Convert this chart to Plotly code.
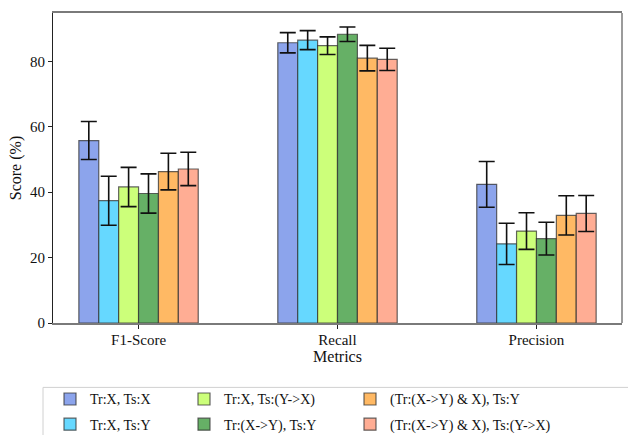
import plotly.graph_objects as go

metrics = ["F1-Score", "Recall", "Precision"]
series_names = [
    "Tr:X, Ts:X",
    "Tr:X, Ts:Y",
    "Tr:X, Ts:(Y->X)",
    "Tr:(X->Y), Ts:Y",
    "(Tr:(X->Y) & X), Ts:Y",
    "(Tr:(X->Y) & X), Ts:(Y->X)",
]
colors = ["#8CA4EC", "#66D8FF", "#CCFF7A", "#66B066", "#FFB964", "#FFAD94"]

s1 = [55.8, 85.7, 42.4]
s2 = [37.4, 86.5, 24.2]
s3 = [41.6, 84.8, 28.1]
s4 = [39.6, 88.3, 25.8]
s5 = [46.3, 81.0, 32.9]
s6 = [47.1, 80.6, 33.5]
values = [s1, s2, s3, s4, s5, s6]

e1 = [5.8, 3.1, 7.0]
e2 = [7.5, 2.9, 6.3]
e3 = [6.0, 2.7, 5.6]
e4 = [6.0, 2.2, 5.0]
e5 = [5.6, 3.9, 6.0]
e6 = [5.1, 3.4, 5.5]
errors = [e1, e2, e3, e4, e5, e6]

y_ticks = [0, 20, 40, 60, 80]

FONT = "Liberation Serif"

# legend column assignment (matplotlib ncol=3 fills column-wise)
legend_ids = ["legend", "legend", "legend2", "legend2", "legend3", "legend3"]

fig = go.Figure()
for i, (name, vals, errs, col) in enumerate(zip(series_names, values, errors, colors)):
    fig.add_trace(go.Bar(
        x=metrics, y=vals, name=name,
        marker=dict(color=col, line=dict(color="rgba(50,50,50,0.75)", width=1.2)),
        error_y=dict(type="data", array=errs, visible=True, color="#111111",
                     thickness=1.6, width=8),
        legend=legend_ids[i], legendgroup=f"g{i}",
    ))

W, H = 628, 435
L, R, T, B = 53, 6, 13, 111.5
pw = W - L - R
ph = H - T - B

def px2x(px):
    return (px - L) / pw

def py2y(py):
    return (H - B - py) / ph

legend_common = dict(
    orientation="v", xanchor="left", yanchor="top",
    font=dict(family=FONT, size=14, color="#111111"),
    bgcolor="rgba(0,0,0,0)", borderwidth=0, tracegroupgap=4,
    itemwidth=30,
)

fig.update_layout(
    width=W, height=H,
    margin=dict(l=L, r=R, t=T, b=B, autoexpand=False),
    plot_bgcolor="white", paper_bgcolor="white",
    font=dict(family=FONT, size=15, color="#111111"),
    barmode="group", bargap=0.4, bargroupgap=0,
    legend=dict(x=px2x(50), y=py2y(384), **legend_common),
    legend2=dict(x=px2x(184), y=py2y(384), **legend_common),
    legend3=dict(x=px2x(350), y=py2y(384), **legend_common),
    xaxis=dict(
        range=[-0.43, 2.43], showgrid=False, automargin=False,
        showline=True, linecolor="#7a7a7a", linewidth=1.5, mirror=True,
        ticks="outside", ticklen=4, tickcolor="#222222", ticklabelstandoff=-2,
        tickfont=dict(family=FONT, size=15, color="#111111"),
        title=dict(text="Metrics", font=dict(family=FONT, size=16, color="#111111"), standoff=1),
    ),
    yaxis=dict(
        range=[0, 94.8], tickvals=y_ticks, showgrid=False, zeroline=False, automargin=False,
        showline=True, linecolor="#222222", linewidth=1.2,
        ticks="outside", ticklen=4, tickcolor="#222222",
        tickfont=dict(family=FONT, size=15, color="#111111"),
        title=dict(text="Score (%)", font=dict(family=FONT, size=16, color="#111111"), standoff=4),
    ),
    shapes=[
        dict(type="line", xref="paper", yref="paper", x0=1, x1=1, y0=0, y1=1,
             line=dict(color="#7a7a7a", width=1.5)),
        dict(type="rect", xref="paper", yref="paper",
             x0=px2x(43), x1=px2x(645), y0=py2y(388), y1=py2y(450),
             line=dict(color="#d0d0d0", width=1), fillcolor="rgba(0,0,0,0)"),
    ],
)

fig.write_html("out.html", config={"displayModeBar": False},
               post_script="document.body.style.margin='0px';")
